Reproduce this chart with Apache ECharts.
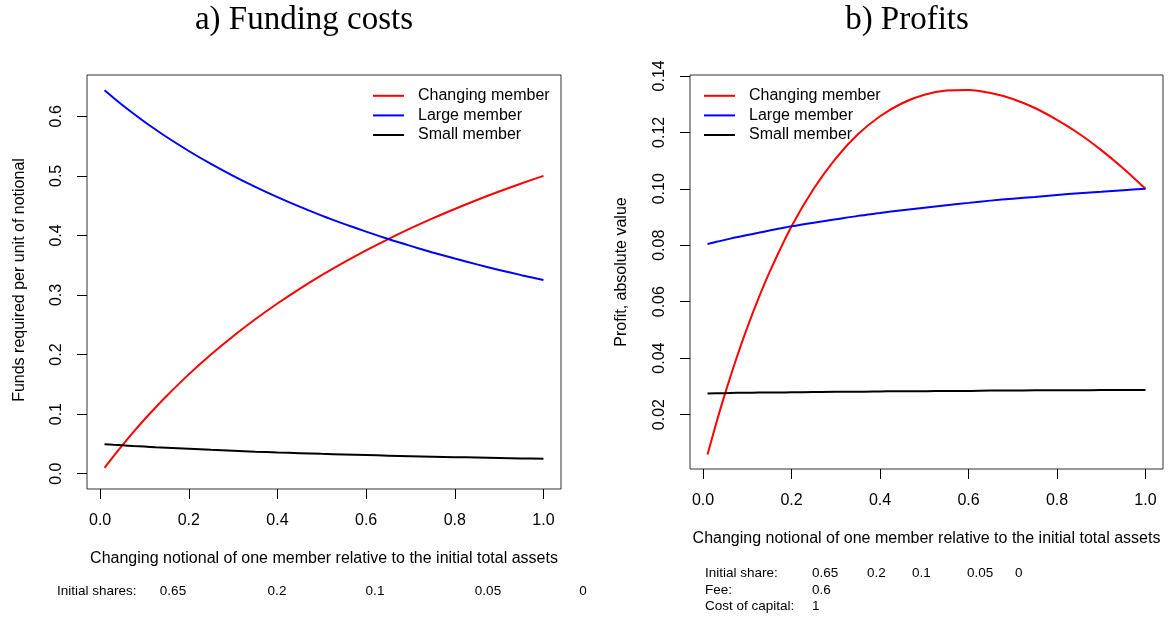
<!DOCTYPE html>
<html>
<head>
<meta charset="utf-8">
<script src="https://cdn.jsdelivr.net/npm/echarts@6/dist/echarts.min.js"></script>
<style>
  html, body { margin: 0; padding: 0; background: #fff; }
  #chart { width: 1173px; height: 617px; }
</style>
</head>
<body>
<div id="chart"></div>
<script>
// Notional of the changing member, relative to the initial total assets
const notional = [0.01, 0.03, 0.05, 0.075, 0.10, 0.125, 0.15, 0.20, 0.25, 0.30, 0.35, 0.40,
                  0.45, 0.50, 0.55, 0.60, 0.65, 0.70, 0.75, 0.80, 0.85, 0.90, 0.95, 1.00];

// a) Funds required per unit of notional
const fundsChanging = [0.0099, 0.0291, 0.0476, 0.0698, 0.0909, 0.1111, 0.1304, 0.1667, 0.2000, 0.2308, 0.2593, 0.2857,
                       0.3103, 0.3333, 0.3548, 0.3750, 0.3939, 0.4118, 0.4286, 0.4444, 0.4595, 0.4737, 0.4872, 0.5000];
const fundsLarge    = [0.6436, 0.6311, 0.6190, 0.6047, 0.5909, 0.5778, 0.5652, 0.5417, 0.5200, 0.5000, 0.4815, 0.4643,
                       0.4483, 0.4333, 0.4194, 0.4063, 0.3939, 0.3824, 0.3714, 0.3611, 0.3514, 0.3421, 0.3333, 0.3250];
const fundsSmall    = [0.0495, 0.0485, 0.0476, 0.0465, 0.0455, 0.0444, 0.0435, 0.0417, 0.0400, 0.0385, 0.0370, 0.0357,
                       0.0345, 0.0333, 0.0323, 0.0313, 0.0303, 0.0294, 0.0286, 0.0278, 0.0270, 0.0263, 0.0256, 0.0250];

// b) Profit, absolute value
const profitChanging = [0.0059, 0.0171, 0.0276, 0.0398, 0.0509, 0.0611, 0.0704, 0.0867, 0.1000, 0.1108, 0.1193, 0.1257,
                        0.1303, 0.1333, 0.1348, 0.1350, 0.1339, 0.1318, 0.1286, 0.1244, 0.1195, 0.1137, 0.1072, 0.1000];
const profitLarge    = [0.0804, 0.0812, 0.0819, 0.0828, 0.0836, 0.0844, 0.0852, 0.0867, 0.0880, 0.0892, 0.0904, 0.0914,
                        0.0924, 0.0933, 0.0942, 0.0950, 0.0958, 0.0965, 0.0971, 0.0978, 0.0984, 0.0989, 0.0995, 0.1000];
const profitSmall    = [0.0275, 0.0276, 0.0276, 0.0277, 0.0277, 0.0278, 0.0278, 0.0279, 0.0280, 0.0281, 0.0281, 0.0282,
                        0.0283, 0.0283, 0.0284, 0.0284, 0.0285, 0.0285, 0.0286, 0.0286, 0.0286, 0.0287, 0.0287, 0.0287];

// Tick positions
const xTicks = [0, 0.2, 0.4, 0.6, 0.8, 1.0];
const fundsTicks = [0, 0.1, 0.2, 0.3, 0.4, 0.5, 0.6];
const profitTicks = [0.02, 0.04, 0.06, 0.08, 0.10, 0.12, 0.14];

// Parameter notes under each panel
const initialShares = ['0.65', '0.2', '0.1', '0.05', '0'];
const fee = '0.6';
const costOfCapital = '1';

const memberNames = ['Changing member', 'Large member', 'Small member'];
const memberColors = ['#ff0000', '#0000ff', '#000000'];

const SANS = '"Liberation Sans", Arial, Helvetica, sans-serif';
const SERIF = '"Liberation Serif", "Times New Roman", serif';

// R-style plot extents: data range padded by 4% on each side
const xMin = -0.0296, xMax = 1.0396;

function pairs(ys) { return notional.map((x, i) => [x, ys[i]]); }

function xAxisCfg(gridIndex) {
  return {
    type: 'value', gridIndex, min: xMin, max: xMax,
    axisLine: { show: false, onZero: false },
    splitLine: { show: false },
    axisTick: { show: true, length: 10, lineStyle: { color: '#000', width: 1 }, customValues: xTicks },
    axisLabel: {
      show: true, customValues: xTicks, margin: 24,
      fontFamily: SANS, fontSize: 16, color: '#000',
      formatter: v => v.toFixed(1)
    }
  };
}

function yAxisCfg(gridIndex, min, max, ticks, digits) {
  return {
    type: 'value', gridIndex, min, max,
    axisLine: { show: false, onZero: false },
    splitLine: { show: false },
    axisTick: { show: true, length: 10, lineStyle: { color: '#000', width: 1 }, customValues: ticks },
    axisLabel: {
      show: true, customValues: ticks, rotate: 90, margin: 22,
      fontFamily: SANS, fontSize: 16, color: '#000',
      formatter: v => v.toFixed(digits)
    }
  };
}

function lineSeries(name, color, ys, axisIndex) {
  return {
    type: 'line', name, data: pairs(ys),
    xAxisIndex: axisIndex, yAxisIndex: axisIndex,
    showSymbol: false, smooth: 0.3, silent: true,
    lineStyle: { color, width: 2 }, itemStyle: { color },
    emphasis: { disabled: true }
  };
}

function legendCfg(left) {
  return {
    orient: 'vertical', left, top: 86, padding: 0,
    itemWidth: 31, itemHeight: 2, itemGap: 0, icon: 'rect',
    selectedMode: false,
    data: memberNames,
    textStyle: { fontFamily: SANS, fontSize: 16, color: '#000', lineHeight: 19.6, padding: [0, 0, 0, 9] }
  };
}

function txt(text, x, y, opts) {
  return {
    type: 'text', x, y, rotation: (opts && opts.rotation) || 0, silent: true,
    style: Object.assign({
      text, fill: '#000', font: '16px ' + SANS,
      textAlign: 'center', textVerticalAlign: 'middle'
    }, (opts && opts.style) || {})
  };
}

const graphics = [
  // panel titles
  txt('a) Funding costs', 304, 20, { style: { font: '33px ' + SERIF } }),
  txt('b) Profits', 907, 20, { style: { font: '33px ' + SERIF } }),
  // axis titles
  txt('Changing notional of one member relative to the initial total assets', 324, 559),
  txt('Changing notional of one member relative to the initial total assets', 926.5, 539),
  txt('Funds required per unit of notional', 20, 280, { rotation: Math.PI / 2 }),
  txt('Profit, absolute value', 622, 272, { rotation: Math.PI / 2 }),
  // notes under panel a
  txt('Initial shares:', 57, 591, { style: { font: '13.5px ' + SANS, textAlign: 'left' } })
];
const leftShareX = [173, 277, 375, 488, 583];
initialShares.forEach((s, i) => graphics.push(
  txt(s, leftShareX[i], 591, { style: { font: '13.5px ' + SANS } })));

// notes under panel b
const noteFont = '13.5px ' + SANS;
graphics.push(txt('Initial share:', 705, 573, { style: { font: noteFont, textAlign: 'left' } }));
graphics.push(txt('Fee:', 705, 590, { style: { font: noteFont, textAlign: 'left' } }));
graphics.push(txt('Cost of capital:', 705, 606, { style: { font: noteFont, textAlign: 'left' } }));
const rightShareX = [812, 867, 912, 967, 1015];
initialShares.forEach((s, i) => graphics.push(
  txt(s, rightShareX[i], 573, { style: { font: noteFont, textAlign: 'left' } })));
graphics.push(txt(fee, 812, 590, { style: { font: noteFont, textAlign: 'left' } }));
graphics.push(txt(costOfCapital, 812, 606, { style: { font: noteFont, textAlign: 'left' } }));

const chart = echarts.init(document.getElementById('chart'), null, { renderer: 'canvas' });
chart.setOption({
  animation: false,
  backgroundColor: '#fff',
  grid: [
    { left: 87, top: 75, width: 474, height: 414, show: true, borderColor: '#333', borderWidth: 1,
      backgroundColor: 'transparent', containLabel: false, outerBoundsMode: 'none' },
    { left: 690, top: 75, width: 473, height: 394, show: true, borderColor: '#333', borderWidth: 1,
      backgroundColor: 'transparent', containLabel: false, outerBoundsMode: 'none' }
  ],
  xAxis: [xAxisCfg(0), xAxisCfg(1)],
  yAxis: [
    yAxisCfg(0, -0.0257, 0.6693, fundsTicks, 1),
    yAxisCfg(1, 0.00073, 0.1403, profitTicks, 2)
  ],
  legend: [legendCfg(373), legendCfg(704)],
  tooltip: { show: false },
  series: [
    lineSeries(memberNames[0], memberColors[0], fundsChanging, 0),
    lineSeries(memberNames[1], memberColors[1], fundsLarge, 0),
    lineSeries(memberNames[2], memberColors[2], fundsSmall, 0),
    lineSeries(memberNames[0], memberColors[0], profitChanging, 1),
    lineSeries(memberNames[1], memberColors[1], profitLarge, 1),
    lineSeries(memberNames[2], memberColors[2], profitSmall, 1)
  ],
  graphic: graphics
});
</script>
</body>
</html>
